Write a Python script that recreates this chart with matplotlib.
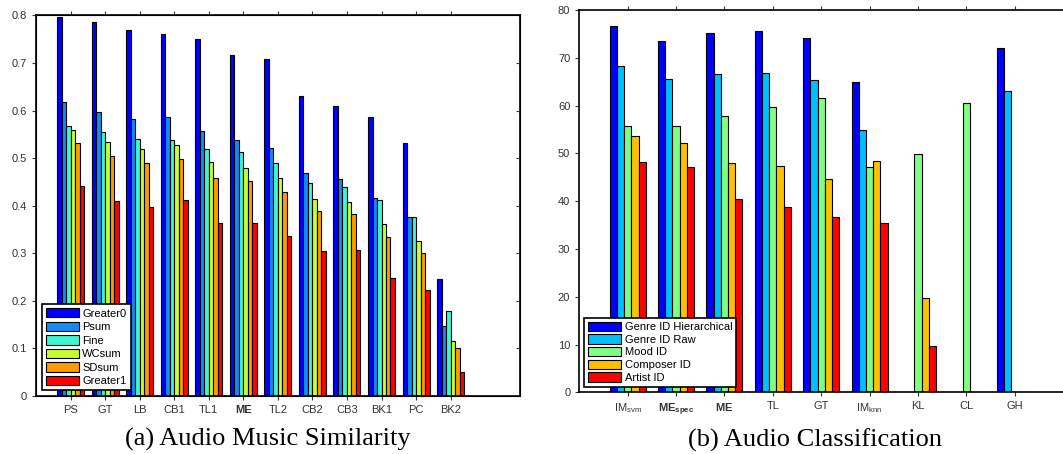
import numpy as np
import matplotlib
matplotlib.use('Agg')
import matplotlib.pyplot as plt

plt.rcParams['font.family'] = ['Liberation Sans', 'DejaVu Sans']
plt.rcParams['mathtext.fontset'] = 'custom'
plt.rcParams['mathtext.rm'] = 'Liberation Sans'
plt.rcParams['mathtext.bf'] = 'Liberation Sans:bold'
plt.rcParams['mathtext.it'] = 'Liberation Sans:italic'
plt.rcParams['mathtext.default'] = 'regular'

# (a) Audio Music Similarity
sim_labels = ['PS', 'GT', 'LB', 'CB1', 'TL1', 'ME', 'TL2', 'CB2', 'CB3', 'BK1', 'PC', 'BK2']
sim_series = ['Greater0', 'Psum', 'Fine', 'WCsum', 'SDsum', 'Greater1']
greater0 = [0.796, 0.787, 0.769, 0.761, 0.751, 0.717, 0.709, 0.630, 0.609, 0.586, 0.531, 0.245]
psum     = [0.619, 0.597, 0.583, 0.586, 0.556, 0.539, 0.522, 0.468, 0.457, 0.417, 0.376, 0.147]
fine     = [0.568, 0.554, 0.541, 0.539, 0.519, 0.512, 0.490, 0.447, 0.439, 0.411, 0.377, 0.179]
wcsum    = [0.560, 0.534, 0.520, 0.528, 0.491, 0.480, 0.459, 0.414, 0.407, 0.361, 0.325, 0.115]
sdsum    = [0.531, 0.504, 0.489, 0.499, 0.459, 0.451, 0.428, 0.388, 0.382, 0.333, 0.300, 0.100]
greater1 = [0.442, 0.409, 0.396, 0.411, 0.363, 0.363, 0.335, 0.304, 0.306, 0.247, 0.222, 0.050]
sim_colors = ['#0000ff', '#0f8cf5', '#40f5cf', '#c8ff30', '#ff9a00', '#ff0000']

# (b) Audio Classification
cls_labels = ['IM$_{svm}$', r'$\mathbf{ME_{spec}}$', r'$\mathbf{ME}$', 'TL', 'GT',
              'IM$_{knn}$', 'KL', 'CL', 'GH']
cls_series = ['Genre ID Hierarchical', 'Genre ID Raw', 'Mood ID', 'Composer ID', 'Artist ID']
genre_hier = [76.6, 73.6, 75.1, 75.7, 74.2, 64.9, 0, 0, 72.0]
genre_raw  = [68.3, 65.6, 66.7, 66.8, 65.4, 54.9, 0, 0, 63.0]
mood       = [55.8, 55.8, 57.9, 59.7, 61.6, 47.2, 49.9, 60.5, 0]
composer   = [53.7, 52.1, 47.9, 47.3, 44.6, 48.4, 19.8, 0, 0]
artist     = [48.2, 47.2, 40.5, 38.8, 36.7, 35.4, 9.7, 0, 0]
cls_colors = ['#0000ff', '#00bfff', '#80ff80', '#ffc000', '#ff0000']

fig = plt.figure(figsize=(10.63, 4.54), dpi=100)
ax1 = fig.add_axes([0.0339, 0.1284, 0.455, 0.8375])
ax2 = fig.add_axes([0.545, 0.1359, 0.455, 0.842])


def grouped(ax, labels, data, names, colors, width):
    n = len(data)
    x = np.arange(1, len(labels) + 1)
    for k, (vals, name, col) in enumerate(zip(data, names, colors)):
        ax.bar(x + (k - (n - 1) / 2) * width, vals, width, color=col,
               edgecolor='black', linewidth=0.8, label=name, zorder=2)
    ax.set_xticks(x)
    ax.set_xticklabels(labels)


def style(ax, spacing):
    ax.tick_params(axis='both', which='both', labelsize=8, colors='#333333',
                   length=3, width=0.8, direction='out')
    ax.tick_params(axis='x', top=True, bottom=True)
    ax.tick_params(axis='y', left=True, right=True)
    for s in ax.spines.values():
        s.set_linewidth(1.2)
    leg = ax.legend(loc='lower left', fontsize=8, handlelength=3.0, handleheight=0.9,
                    labelspacing=spacing, handletextpad=0.3, borderpad=0.35,
                    borderaxespad=0, fancybox=False, framealpha=1)
    leg.get_frame().set_edgecolor('black')
    leg.get_frame().set_linewidth(1.2)
    return leg


grouped(ax1, sim_labels, [greater0, psum, fine, wcsum, sdsum, greater1],
        sim_series, sim_colors, 0.13)
ax1.set_xlim(0, 14)
ax1.set_ylim(0, 0.8)
ax1.set_yticks(np.arange(0, 0.81, 0.1))
ax1.set_yticklabels(['0', '0.1', '0.2', '0.3', '0.4', '0.5', '0.6', '0.7', '0.8'])
leg1 = style(ax1, 0.28)
leg1.set_bbox_to_anchor((0.012, 0.014))
ax1.get_xticklabels()[5].set_fontweight('bold')
# right-hand ticks point inward
ax1r = ax1.twinx()
ax1r.set_ylim(ax1.get_ylim())
ax1r.set_yticks(ax1.get_yticks())
ax1r.tick_params(axis='y', direction='in', length=3, width=0.8, labelright=False,
                 colors='#333333')
ax1.tick_params(axis='y', right=False)

grouped(ax2, cls_labels, [genre_hier, genre_raw, mood, composer, artist],
        cls_series, cls_colors, 0.149)
ax2.set_xlim(0, 10)
ax2.set_ylim(0, 80)
ax2.set_yticks(np.arange(0, 81, 10))
leg2 = style(ax2, 0.2)
leg2.set_bbox_to_anchor((0.0097, 0.0146))
ax2.spines['right'].set_visible(False)
ax2.tick_params(axis='y', right=False)

fig.text(0.252, 0.031, '(a) Audio Music Similarity', ha='center', va='center',
         fontsize=19, family='Liberation Serif')
fig.text(0.767, 0.031, '(b) Audio Classification', ha='center', va='center',
         fontsize=19, family='Liberation Serif')

fig.savefig('out.png', dpi=100)
